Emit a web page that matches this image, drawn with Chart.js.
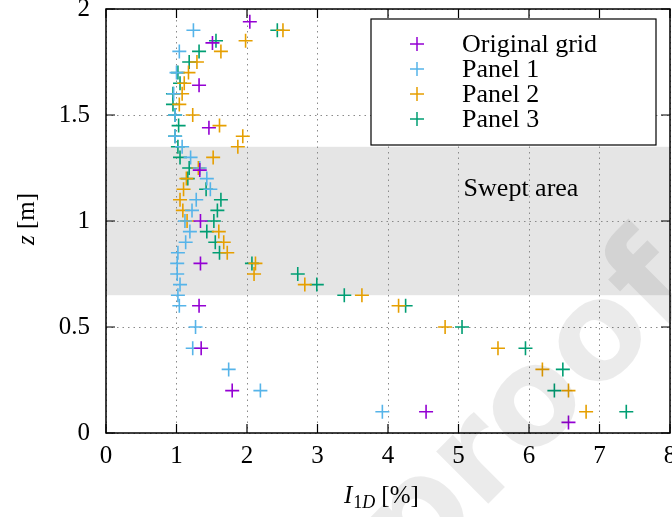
<!DOCTYPE html>
<html>
<head>
<meta charset="utf-8">
<title>Turbulence intensity profiles</title>
<script src="https://cdn.jsdelivr.net/npm/chart.js@4.4.1/dist/chart.umd.min.js"></script>
<style>
  html, body { margin: 0; padding: 0; background: #ffffff; }
  #wrap { position: relative; width: 672px; height: 517px; }
</style>
</head>
<body>
<div id="wrap"><canvas id="chart"></canvas></div>
<script>
/* ── DATA ─────────────────────────────────────────────────── */
const xTicks = [0, 1, 2, 3, 4, 5, 6, 7, 8];
const zTicks = [0, 0.5, 1, 1.5, 2];
const sweptArea = [0.65, 1.35];

const zOriginal = [1.94, 1.84, 1.64, 1.44, 1.24, 1.0, 0.8, 0.6, 0.4, 0.2, 0.1, 0.05];
const iOriginal = [2.04, 1.51, 1.32, 1.46, 1.33, 1.34, 1.34, 1.32, 1.35, 1.79, 4.54, 6.56];

const zPanel1 = [1.9, 1.8, 1.7, 1.6, 1.5, 1.4, 1.35, 1.3, 1.25, 1.2, 1.15, 1.1, 1.05, 1.0,
                 0.95, 0.9, 0.85, 0.8, 0.75, 0.7, 0.65, 0.6, 0.5, 0.4, 0.3, 0.2, 0.1];
const iPanel1 = [1.24, 1.04, 1.0, 0.96, 0.98, 0.98, 1.08, 1.2, 1.33, 1.43, 1.48, 1.28, 1.22, 1.12,
                 1.19, 1.13, 1.02, 1.01, 1.01, 1.05, 1.02, 1.04, 1.27, 1.23, 1.74, 2.19, 3.92];

const zPanel2 = [1.9, 1.85, 1.8, 1.75, 1.7, 1.65, 1.6, 1.55, 1.5, 1.45, 1.4, 1.35, 1.3, 1.25, 1.2, 1.15,
                 1.1, 1.05, 1.0, 0.95, 0.9, 0.85, 0.8, 0.75, 0.7, 0.65, 0.6, 0.5, 0.4, 0.3, 0.2, 0.1];
const iPanel2 = [2.51, 1.98, 1.63, 1.29, 1.17, 1.11, 1.08, 1.04, 1.23, 1.61, 1.94, 1.87, 1.52, 1.31, 1.14, 1.10,
                 1.05, 1.09, 1.15, 1.60, 1.67, 1.72, 2.12, 2.10, 2.82, 3.63, 4.15, 4.81, 5.56, 6.19, 6.56, 6.81];

const zPanel3 = [1.9, 1.85, 1.8, 1.75, 1.7, 1.65, 1.6, 1.55, 1.5, 1.45, 1.4, 1.35, 1.3, 1.25, 1.2, 1.15,
                 1.1, 1.05, 1.0, 0.95, 0.9, 0.85, 0.8, 0.75, 0.7, 0.65, 0.6, 0.5, 0.4, 0.3, 0.2, 0.1];
const iPanel3 = [2.43, 1.56, 1.32, 1.18, 1.02, 1.05, 0.95, 0.95, 0.98, 1.03, 0.98, 1.02, 1.05, 1.18, 1.16, 1.42,
                 1.63, 1.58, 1.53, 1.43, 1.55, 1.61, 2.07, 2.72, 2.99, 3.38, 4.25, 5.05, 5.95, 6.48, 6.36, 7.38];

const seriesLabels = ['Original grid', 'Panel 1', 'Panel 2', 'Panel 3'];
const seriesColors = ['#9400d3', '#56b4e9', '#e69f00', '#009e73'];

const SERIF = '"Liberation Serif", "Times New Roman", serif';

function toPoints(xs, zs) {
  return xs.map((x, i) => ({ x, y: zs[i] }));
}

/* ── DECORATIONS (band, frame, ticks, legend, titles) ─────── */
const plotDecor = {
  id: 'plotDecor',
  beforeDraw(chart) {
    const { ctx, chartArea: a, scales: { y } } = chart;
    const top = y.getPixelForValue(sweptArea[1]);
    const bot = y.getPixelForValue(sweptArea[0]);
    ctx.save();
    ctx.fillStyle = '#e5e5e5';
    ctx.fillRect(a.left, top, a.right - a.left, bot - top);
    ctx.restore();
  },
  afterDatasetsDraw(chart) {
    const { ctx, chartArea: a, scales: { x, y } } = chart;
    ctx.save();

    // "Swept area" note inside the band
    ctx.fillStyle = '#000';
    ctx.font = '26px ' + SERIF;
    ctx.textAlign = 'center';
    ctx.textBaseline = 'middle';
    ctx.fillText('Swept area', 521, y.getPixelForValue(1.15));

    // frame and inward tick marks on all four sides
    ctx.strokeStyle = '#000';
    ctx.lineWidth = 1.5;
    ctx.strokeRect(a.left, a.top, a.right - a.left, a.bottom - a.top);
    ctx.lineWidth = 1.2;
    const tl = 9;
    ctx.beginPath();
    xTicks.forEach(v => {
      const px = x.getPixelForValue(v);
      ctx.moveTo(px, a.bottom); ctx.lineTo(px, a.bottom - tl);
      ctx.moveTo(px, a.top); ctx.lineTo(px, a.top + tl);
    });
    zTicks.forEach(v => {
      const py = y.getPixelForValue(v);
      ctx.moveTo(a.left, py); ctx.lineTo(a.left + tl, py);
      ctx.moveTo(a.right, py); ctx.lineTo(a.right - tl, py);
    });
    ctx.stroke();

    // legend box
    const lx = 371, ly = 19, lw = 285, lh = 126;
    ctx.fillStyle = '#fff';
    ctx.fillRect(lx, ly, lw, lh);
    ctx.lineWidth = 1.2;
    ctx.strokeRect(lx, ly, lw, lh);
    ctx.font = '26px ' + SERIF;
    ctx.textAlign = 'left';
    seriesLabels.forEach((lab, i) => {
      const cy = 44 + i * 25;
      ctx.strokeStyle = seriesColors[i];
      ctx.lineWidth = 1.5;
      ctx.beginPath();
      ctx.moveTo(410, cy); ctx.lineTo(424, cy);
      ctx.moveTo(417, cy - 7); ctx.lineTo(417, cy + 7);
      ctx.stroke();
      ctx.fillStyle = '#000';
      ctx.fillText(lab, 462, cy + 1);
    });

    ctx.restore();
  },
  afterDraw(chart) {
    const { ctx } = chart;
    ctx.save();
    ctx.fillStyle = '#000';
    ctx.textBaseline = 'alphabetic';

    // x title: I_{1D} [%]
    let cx = 344;
    const by = 503;
    ctx.font = 'italic 25px ' + SERIF;
    ctx.fillText('I', cx, by);
    cx += ctx.measureText('I').width + 1;
    ctx.font = '18px ' + SERIF;
    ctx.fillText('1', cx, by + 5);
    cx += ctx.measureText('1').width;
    ctx.font = 'italic 18px ' + SERIF;
    ctx.fillText('D', cx, by + 5);
    cx += ctx.measureText('D').width + 6;
    ctx.font = '25px ' + SERIF;
    ctx.fillText('[%]', cx, by);

    // y title: z [m]
    ctx.translate(34, 219);
    ctx.rotate(-Math.PI / 2);
    ctx.textAlign = 'left';
    ctx.font = 'italic 25px ' + SERIF;
    const zw = ctx.measureText('z ').width;
    ctx.font = '25px ' + SERIF;
    const mw = ctx.measureText('[m]').width;
    const start = -(zw + mw) / 2;
    ctx.font = 'italic 25px ' + SERIF;
    ctx.fillText('z', start, 0);
    ctx.font = '25px ' + SERIF;
    ctx.fillText('[m]', start + zw, 0);
    ctx.restore();

    // faint diagonal watermark
    ctx.save();
    ctx.translate(700, 292);
    ctx.rotate(-45 * Math.PI / 180);
    ctx.font = 'bold 135px "DejaVu Sans", sans-serif';
    ctx.fillStyle = 'rgba(0,0,0,0.08)';
    ctx.textAlign = 'right';
    ctx.textBaseline = 'alphabetic';
    ctx.fillText('Journal Pre-proof', 0, 0);
    ctx.restore();
  }
};

/* ── CHART ────────────────────────────────────────────────── */
const datasets = [
  toPoints(iOriginal, zOriginal),
  toPoints(iPanel1, zPanel1),
  toPoints(iPanel2, zPanel2),
  toPoints(iPanel3, zPanel3)
].map((data, i) => ({
  label: seriesLabels[i],
  data,
  pointStyle: 'cross',
  pointRadius: 7,
  pointHoverRadius: 7,
  borderWidth: 1.6,
  borderColor: seriesColors[i],
  backgroundColor: seriesColors[i],
  showLine: false
}));

const gridStyle = {
  color: '#8a8a8a',
  lineWidth: 1,
  drawTicks: false
};

new Chart(document.getElementById('chart'), {
  type: 'scatter',
  data: { datasets },
  options: {
    responsive: true,
    maintainAspectRatio: false,
    animation: false,
    layout: { autoPadding: false, padding: { top: 9, right: 2, left: 0, bottom: 0 } },
    plugins: {
      legend: { display: false },
      tooltip: { enabled: false }
    },
    scales: {
      x: {
        type: 'linear',
        min: 0, max: 8,
        grid: gridStyle,
        border: { display: false, dash: [1.5, 4] },
        ticks: {
          stepSize: 1,
          padding: 8,
          color: '#000',
          font: { family: SERIF, size: 25 },
          callback: v => String(v)
        },
        afterFit: s => { s.height = 84; s.paddingLeft = 0; s.paddingRight = 0; }
      },
      y: {
        type: 'linear',
        min: 0, max: 2,
        grid: gridStyle,
        border: { display: false, dash: [1.5, 4] },
        ticks: {
          stepSize: 0.5,
          padding: 16,
          color: '#000',
          font: { family: SERIF, size: 25 },
          callback: v => String(v)
        },
        afterFit: s => { s.width = 106; s.paddingTop = 0; s.paddingBottom = 0; }
      }
    }
  },
  plugins: [plotDecor]
});
</script>
</body>
</html>
